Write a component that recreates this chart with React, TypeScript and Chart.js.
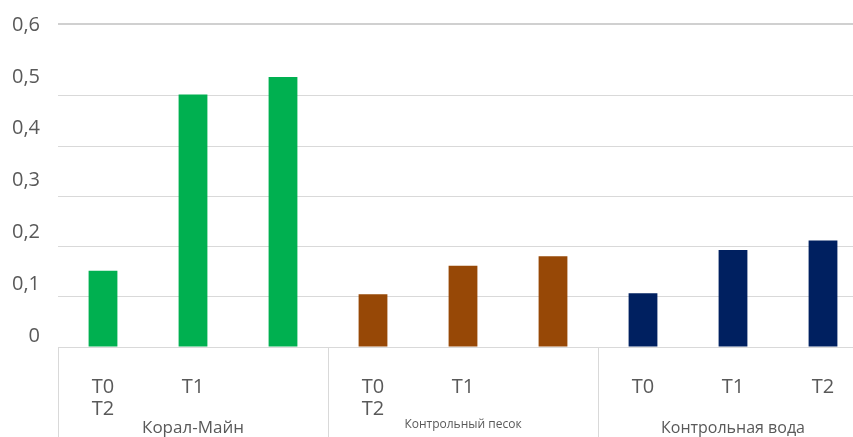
import React, { useEffect, useRef } from "react";
import { Chart, registerables } from "chart.js";

Chart.register(...registerables);

const categories: (string | string[])[] = [["T0", "T2"], "T1", "", ["T0", "T2"], "T1", "", "T0", "T1", "T2"];
const groups = ["Корал-Майн", "Контрольный песок", "Контрольная вода"];
const values = [0.152, 0.503, 0.538, 0.105, 0.162, 0.181, 0.107, 0.193, 0.212];
const groupColors = ["#00B050", "#974806", "#002060"];
const yTickValues = [0, 0.1, 0.2, 0.3, 0.4, 0.5, 0.6];
const yTickLabels = ["0", "0,1", "0,2", "0,3", "0,4", "0,5", "0,6"];
const gridValues = [0, 0.1, 0.2, 0.3, 0.4, 0.5];

const FONT = "'Open Sans', 'Noto Sans', sans-serif";
const TEXT = "#595959";
const GRID = "#d9d9d9";

const groupPlugin = {
  id: "groupPlugin",
  afterDraw(chart: any) {
    const x = chart.scales.x;
    const ctx = chart.ctx;
    const top = chart.chartArea.bottom;
    const bottom = chart.height;
    const step = x.getPixelForValue(1) - x.getPixelForValue(0);
    const bounds = [
      x.getPixelForValue(0) - step / 2,
      (x.getPixelForValue(2) + x.getPixelForValue(3)) / 2,
      (x.getPixelForValue(5) + x.getPixelForValue(6)) / 2,
    ];
    ctx.save();
    ctx.strokeStyle = GRID;
    ctx.lineWidth = 1;
    bounds.forEach((b) => {
      const px = Math.round(b) + 0.5;
      ctx.beginPath();
      ctx.moveTo(px, top);
      ctx.lineTo(px, bottom);
      ctx.stroke();
    });
    ctx.fillStyle = TEXT;
    ctx.textAlign = "center";
    ctx.textBaseline = "alphabetic";
    groups.forEach((g, i) => {
      const cx = x.getPixelForValue(i * 3 + 1);
      if (i === 1) {
        ctx.font = `12px ${FONT}`;
        ctx.fillText(g, cx, 428);
      } else {
        ctx.font = `${i === 0 ? 17 : 16}px ${FONT}`;
        ctx.fillText(g, cx, 433);
      }
    });
    ctx.restore();
  },
};

export default function App() {
  const ref = useRef<HTMLCanvasElement>(null);
  useEffect(() => {
    if (!ref.current) return;
    const colors = values.map((_, i) => groupColors[Math.floor(i / 3)]);
    const chart = new Chart(ref.current, {
      type: "bar",
      data: {
        labels: categories as any,
        datasets: [
          {
            data: values,
            backgroundColor: colors,
            borderWidth: 0,
            barPercentage: 0.32,
            categoryPercentage: 1,
          },
        ],
      },
      options: {
        animation: false,
        responsive: false,
        layout: { padding: { top: 24, left: 0, right: 0, bottom: 0 } },
        plugins: { legend: { display: false }, tooltip: { enabled: false } },
        scales: {
          x: {
            type: "category",
            grid: { display: false },
            border: { display: true, color: GRID },
            ticks: {
              color: TEXT,
              font: { family: FONT, size: 20, lineHeight: 1.1 },
              autoSkip: false,
              maxRotation: 0,
              minRotation: 0,
              padding: 21,
            },
            afterFit: (s: any) => {
              s.height = 90;
              s.paddingLeft = 0;
              s.paddingRight = 0;
            },
          },
          y: {
            type: "linear",
            position: "left",
            min: 0,
            max: 0.6434,
            grid: {
              color: (c: any) => (c.index === 6 ? "#d0d0d0" : GRID),
              lineWidth: (c: any) => (c.index === 6 ? 2 : 1),
              drawTicks: false,
            },
            border: { display: false },
            ticks: { display: false },
            afterBuildTicks: (s: any) => {
              s.ticks = [...gridValues, s.max].map((v) => ({ value: v }));
            },
            afterFit: (s: any) => {
              s.width = 0;
              s.paddingTop = 0;
              s.paddingBottom = 0;
            },
          },
          yl: {
            type: "linear",
            position: "left",
            min: -0.0212,
            max: 0.6019,
            grid: { display: false, drawTicks: false },
            border: { display: false },
            ticks: {
              color: TEXT,
              font: { family: FONT, size: 20 },
              padding: 18,
              callback: (v: any) => {
                const i = yTickValues.findIndex((t) => Math.abs(t - Number(v)) < 1e-6);
                return i >= 0 ? yTickLabels[i] : "";
              },
            },
            afterBuildTicks: (s: any) => {
              s.ticks = yTickValues.map((v) => ({ value: v }));
            },
            afterFit: (s: any) => {
              s.width = 58;
              s.paddingTop = 0;
              s.paddingBottom = 0;
            },
          },
        },
      } as any,
      plugins: [groupPlugin],
    });
    return () => chart.destroy();
  }, []);

  return (
    <div
      style={{
        position: "absolute",
        left: 0,
        top: 0,
        width: 853,
        height: 437,
        overflow: "hidden",
        background: "#fff",
      }}
    >
      <canvas ref={ref} width={868} height={437} style={{ display: "block" }} />
    </div>
  );
}
